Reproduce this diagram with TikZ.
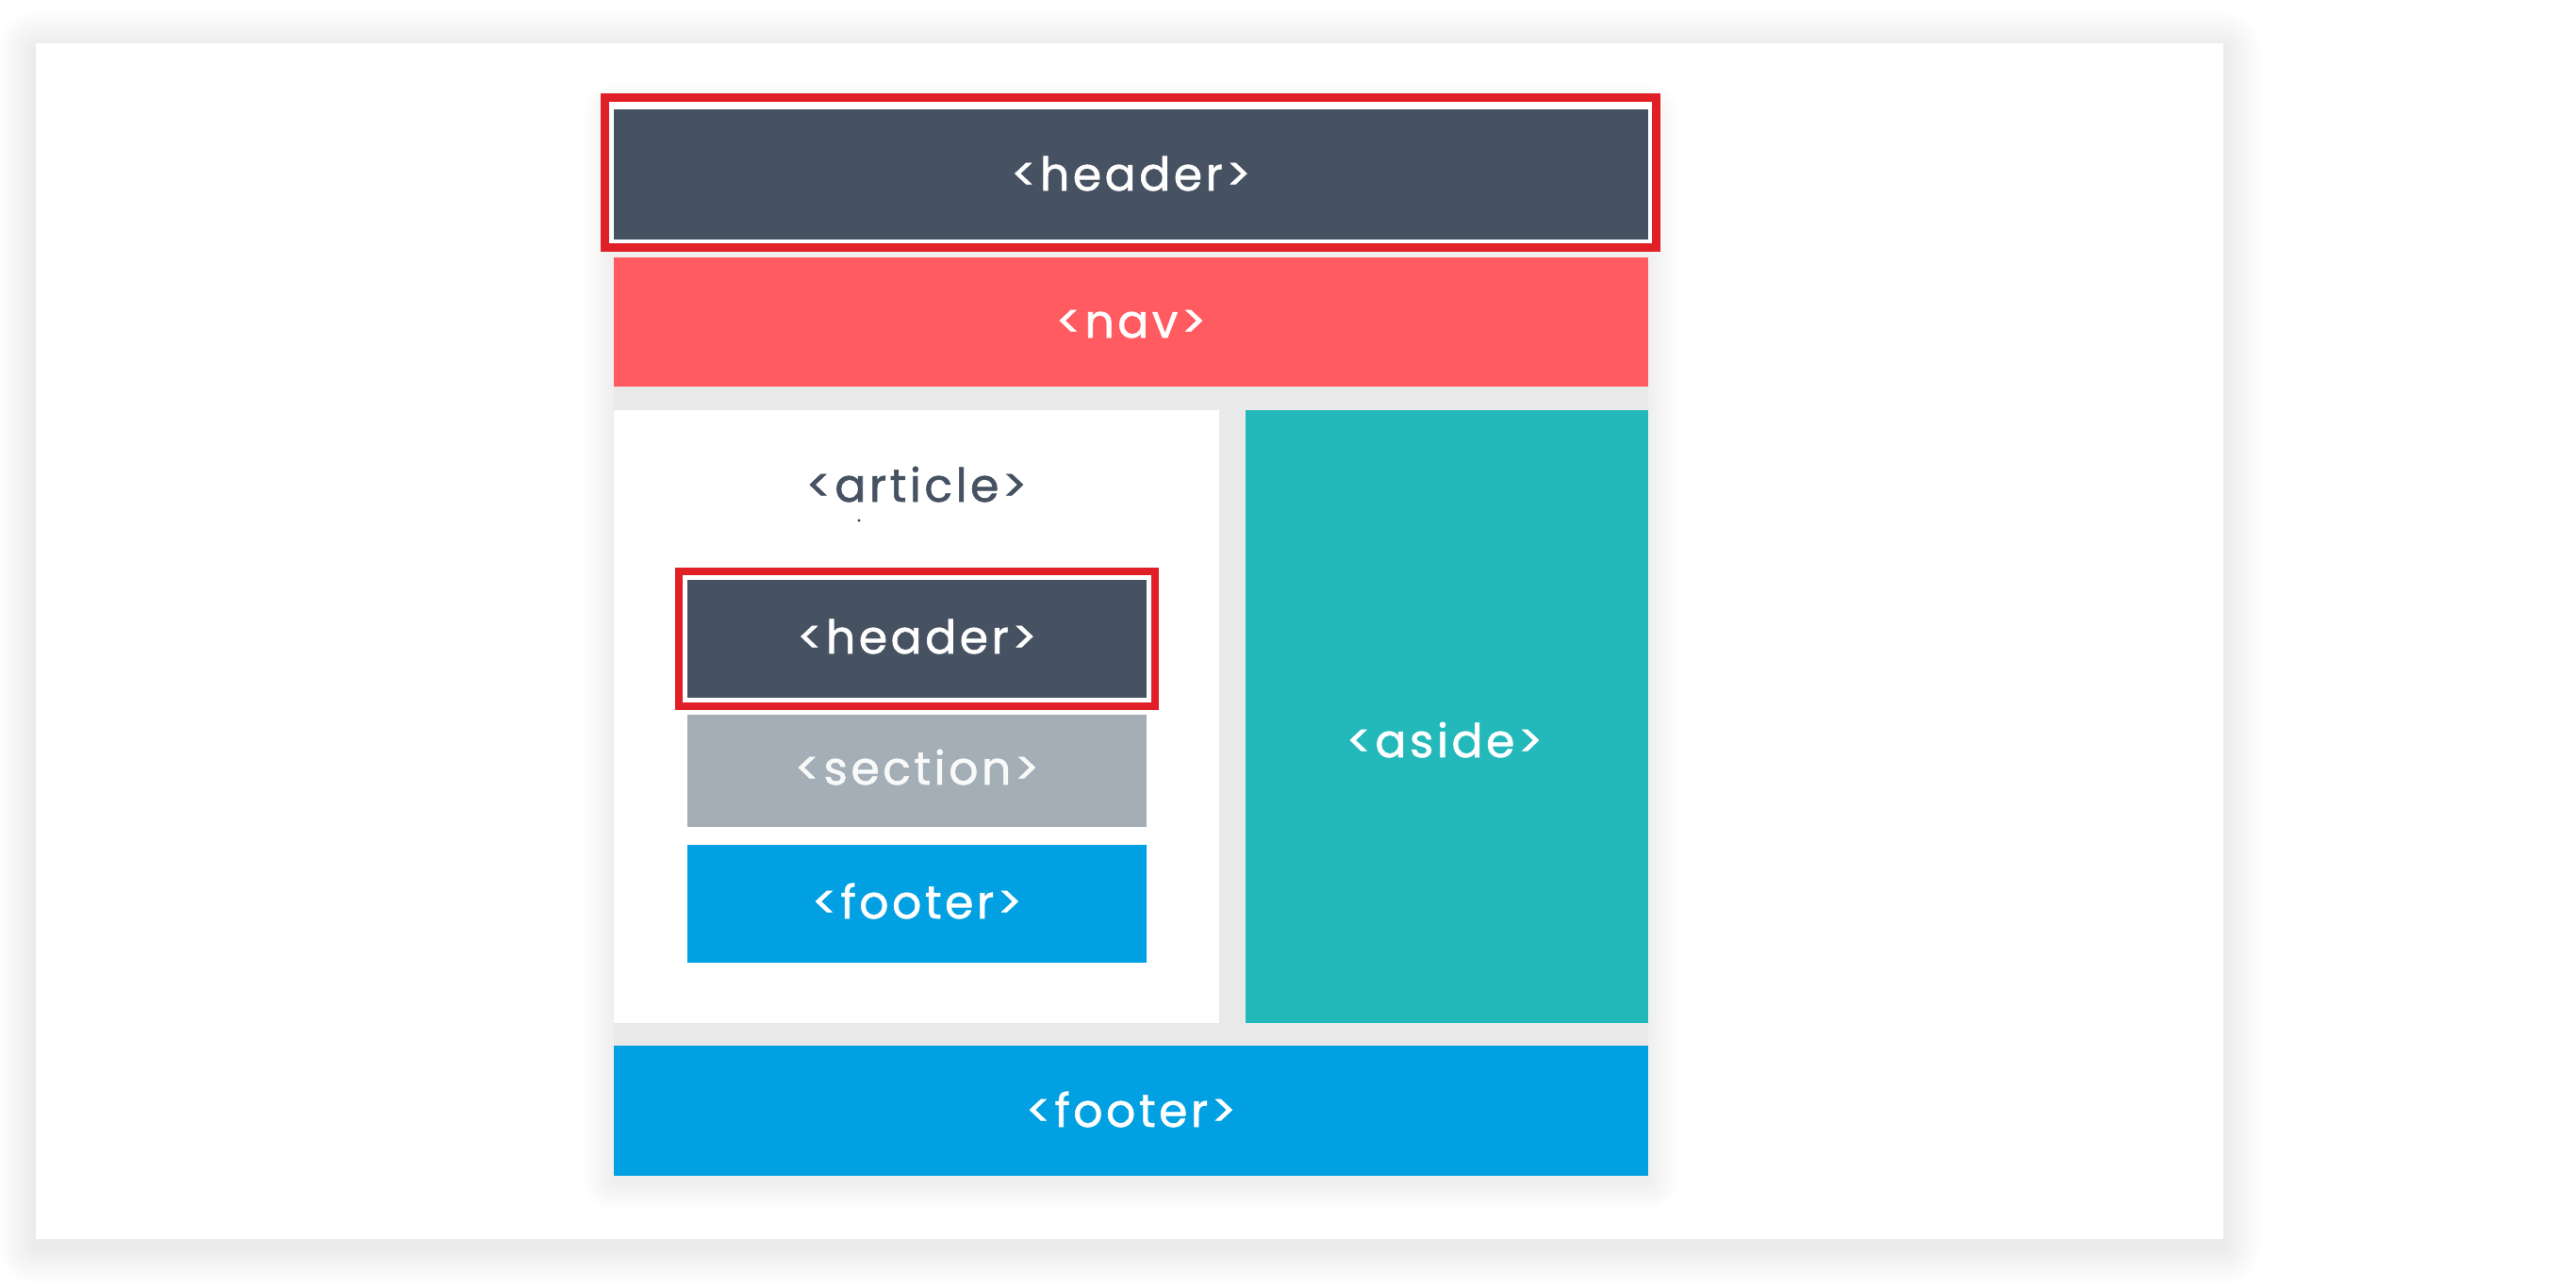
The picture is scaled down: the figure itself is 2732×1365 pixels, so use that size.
\documentclass[tikz,border=0pt]{standalone}
\usepackage{fontspec}
\setmainfont{Poppins}
\newfontfamily\tagface{Poppins}[LetterSpace=7,FakeBold=1.2]
\definecolor{hdrc}{HTML}{465262}
\definecolor{navc}{HTML}{FF5B61}
\definecolor{asidec}{HTML}{23B9BB}
\definecolor{footc}{HTML}{00A0E2}
\definecolor{secc}{HTML}{A3AEB7}
\definecolor{markc}{HTML}{E01F26}
\definecolor{gapc}{HTML}{E9E9E9}
\newcommand{\tagfont}{\tagface\fontsize{49}{58}\selectfont}
\begin{document}
\begin{tikzpicture}[x=1pt,y=-1pt,
  block/.style={inner sep=0pt,outer sep=0pt,text=white,font=\tagfont},
  tagtext/.style={inner sep=0pt,outer sep=0pt,font=\tagfont,anchor=base},
  marker/.style={draw=markc,line width=#1,fill=white},
  softshadow/.style={black,opacity=0.0045}]
\fill[white] (0,0) rectangle (2732,1365);
\useasboundingbox (0,0) rectangle (2732,1365);

% soft shadow of the card
\foreach \i in {1,...,20}{
  \pgfmathsetmacro{\r}{2*\i}
  \fill[softshadow,rounded corners=\r pt] (38-\r,52-\r) rectangle (2358+\r,1322+\r);
}
\fill[white] (38,46) rectangle (2358,1314);

% soft shadow of the page column
\foreach \i in {1,...,16}{
  \pgfmathsetmacro{\r}{2*\i}
  \fill[softshadow,opacity=0.0055,rounded corners=\r pt] (651-\r,120-\r) rectangle (1748+\r,1252+\r);
}
\fill[gapc] (651,405) rectangle (1748,1112);

% top header with its marker frame
\draw[marker=9pt] (641.5,103.5) rectangle (1756.5,262.5);
\node[block,fill=hdrc,minimum width=1097,minimum height=138] (header) at (1199.5,185) {};
\node[tagtext,text=white] (headerlabel) at (1199.5,202) {<header>};

% nav
\node[block,fill=navc,minimum width=1097,minimum height=137] (nav) at (1199.5,341.5) {};
\node[tagtext,text=white] (navlabel) at (1199.5,358) {<nav>};

% article
\node[block,fill=white,minimum width=642,minimum height=650] (article) at (972,760) {};
\node[tagtext,text=hdrc] (articlelabel) at (972,532) {<article>};
\fill[hdrc!80!black] (911,552) circle (1.6);

\draw[marker=8pt] (720,606) rectangle (1225,749);
\node[block,fill=hdrc,minimum width=487,minimum height=125] (aheader) at (972.5,677.5) {};
\node[tagtext,text=white] (aheaderlabel) at (972.5,693) {<header>};
\node[block,fill=secc,minimum width=487,minimum height=119] (section) at (972.5,817.5) {};
\node[tagtext,text=white!92!secc] (sectionlabel) at (972.5,832) {<section>};
\node[block,fill=footc,minimum width=487,minimum height=125] (afooter) at (972.5,958.5) {};
\node[tagtext,text=white] (afooterlabel) at (972.5,974) {<footer>};

% aside
\node[block,fill=asidec,minimum width=427,minimum height=650] (aside) at (1534.5,760) {};
\node[tagtext,text=white] (asidelabel) at (1532,803) {<aside>};

% footer
\node[block,fill=footc,minimum width=1097,minimum height=138] (footer) at (1199.5,1178) {};
\node[tagtext,text=white] (footerlabel) at (1199.5,1195) {<footer>};
\end{tikzpicture}
\end{document}
